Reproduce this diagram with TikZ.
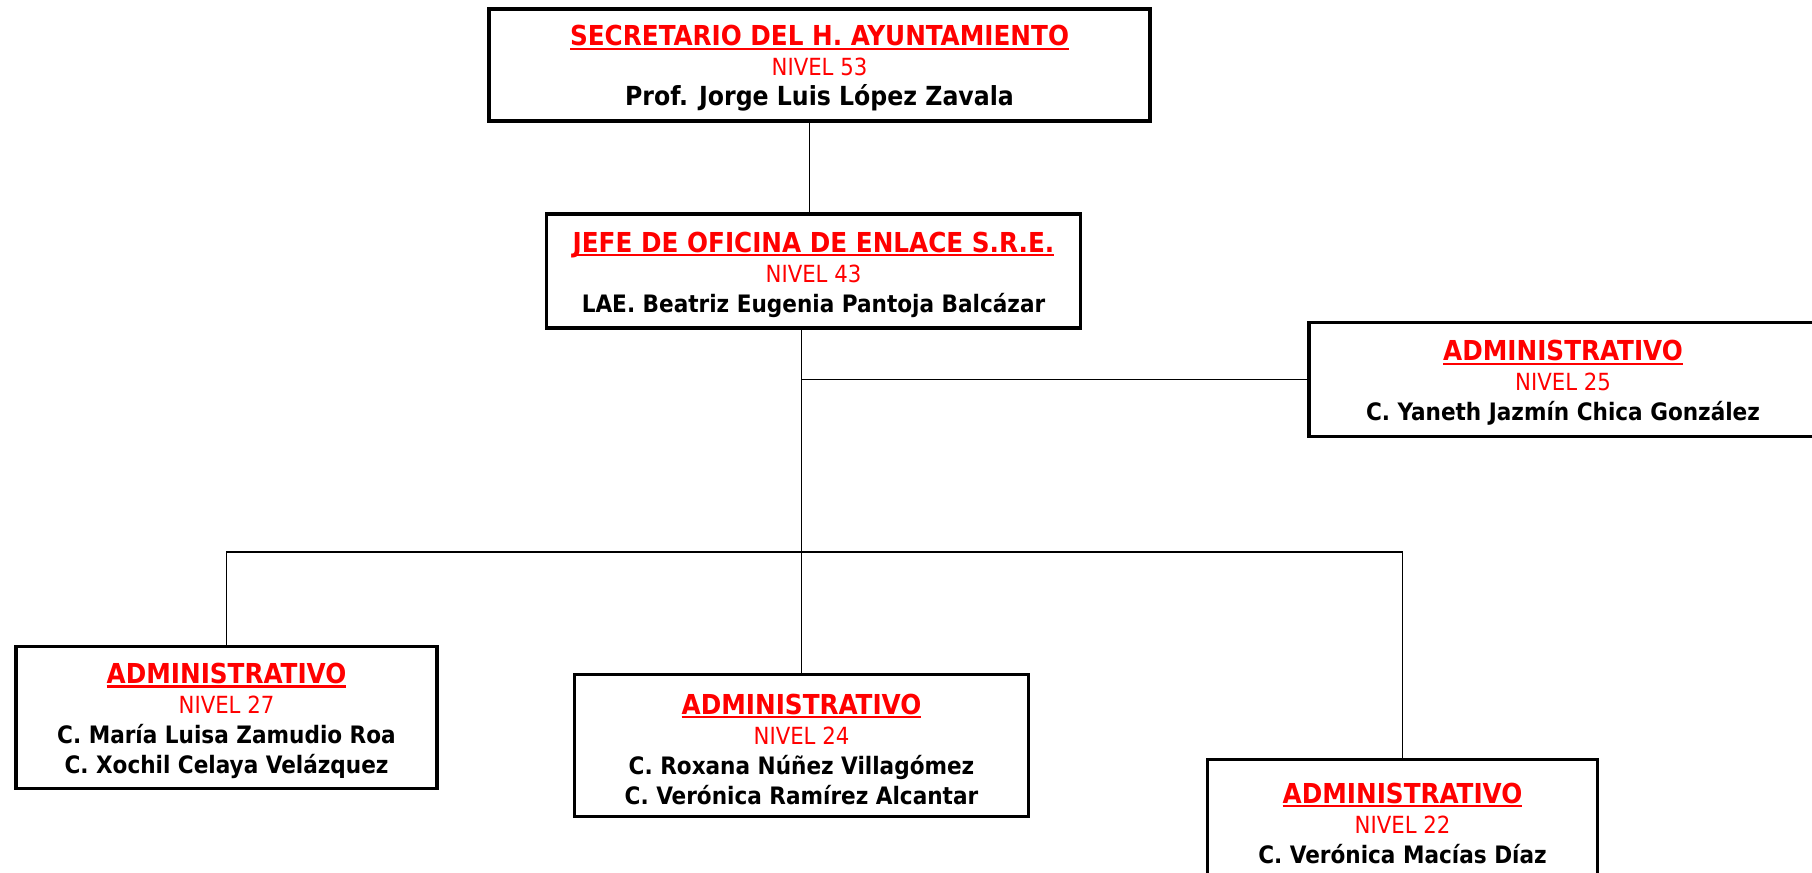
\documentclass[tikz,border=0pt]{standalone}
\usepackage{fontspec}
\setmainfont{DejaVu Sans Condensed}
\definecolor{rojo}{RGB}{255,0,0}

\newcommand{\subrayado}[1]{\setbox0\hbox{#1}\rlap{\rule[-3.2pt]{\wd0}{1.9pt}}\box0}
\newcommand{\cargo}[1]{{\color{rojo}\bfseries\fontsize{20.6}{22.5}\selectfont\rule{0pt}{20.5pt}\subrayado{#1}}}
\newcommand{\nivel}[1]{{\color{rojo}\fontsize{17.7}{22.5}\selectfont NIVEL #1}}
\newcommand{\titular}[1]{{\bfseries #1}}

\begin{document}
\begin{tikzpicture}[x=0.75pt,y=-0.75pt,
  puesto/.style={draw, line width=2.4pt, fill=white, align=center, inner sep=0pt,
    font=\fontsize{18}{22.5}\selectfont},
  enlace/.style={line width=1pt}]
 \useasboundingbox (0,0) rectangle (1812,872);
 \node [puesto, minimum width=495.75pt, minimum height=84pt, font=\fontsize{19.7}{22.5}\selectfont] (secre) at (819.5,65)
  {\cargo{SECRETARIO DEL H. AYUNTAMIENTO}\\ \nivel{53}\\ \titular{Prof. Jorge Luis López Zavala}};
 \node [puesto, minimum width=400pt, minimum height=85.5pt] (jefe) at (813.5,271)
  {\cargo{JEFE DE OFICINA DE ENLACE S.R.E.}\\ \nivel{43}\\ \titular{LAE. Beatriz Eugenia Pantoja Balcázar}};
 \node [puesto, minimum width=381pt, minimum height=86pt] (adm25) at (1563,379.5)
  {\cargo{ADMINISTRATIVO}\\ \nivel{25}\\ \titular{C. Yaneth Jazmín Chica González}};
 \node [puesto, minimum width=315.75pt, minimum height=107pt] (adm27) at (226.5,717.5)
  {\cargo{ADMINISTRATIVO}\\ \nivel{27}\\ \titular{C. María Luisa Zamudio Roa}\\ \titular{C. Xochil Celaya Velázquez}};
 \node [puesto, minimum width=340pt, minimum height=107pt] (adm24) at (801.5,745.5)
  {\cargo{ADMINISTRATIVO}\\ \nivel{24}\\ \titular{C. Roxana Núñez Villagómez}\\ \titular{C. Verónica Ramírez Alcantar}};
 \node [puesto, minimum width=292pt, minimum height=90pt] (adm22) at (1402.5,819.5)
  {\cargo{ADMINISTRATIVO}\\ \nivel{22}\\ \titular{C. Verónica Macías Díaz}};
 \coordinate (bus) at (0,552);
 \draw [enlace] ([xshift=-3pt]jefe.north) -- ([xshift=-3pt]jefe.north |- secre.south);
 \draw [enlace] (adm24.north) -- (adm24.north |- jefe.south);
 \draw [enlace] (adm25.west) -- (adm25.west -| adm24.north);
 \draw [enlace] (adm27.north) |- (bus -| adm22.north) -- (adm22.north);
\end{tikzpicture}
\end{document}
